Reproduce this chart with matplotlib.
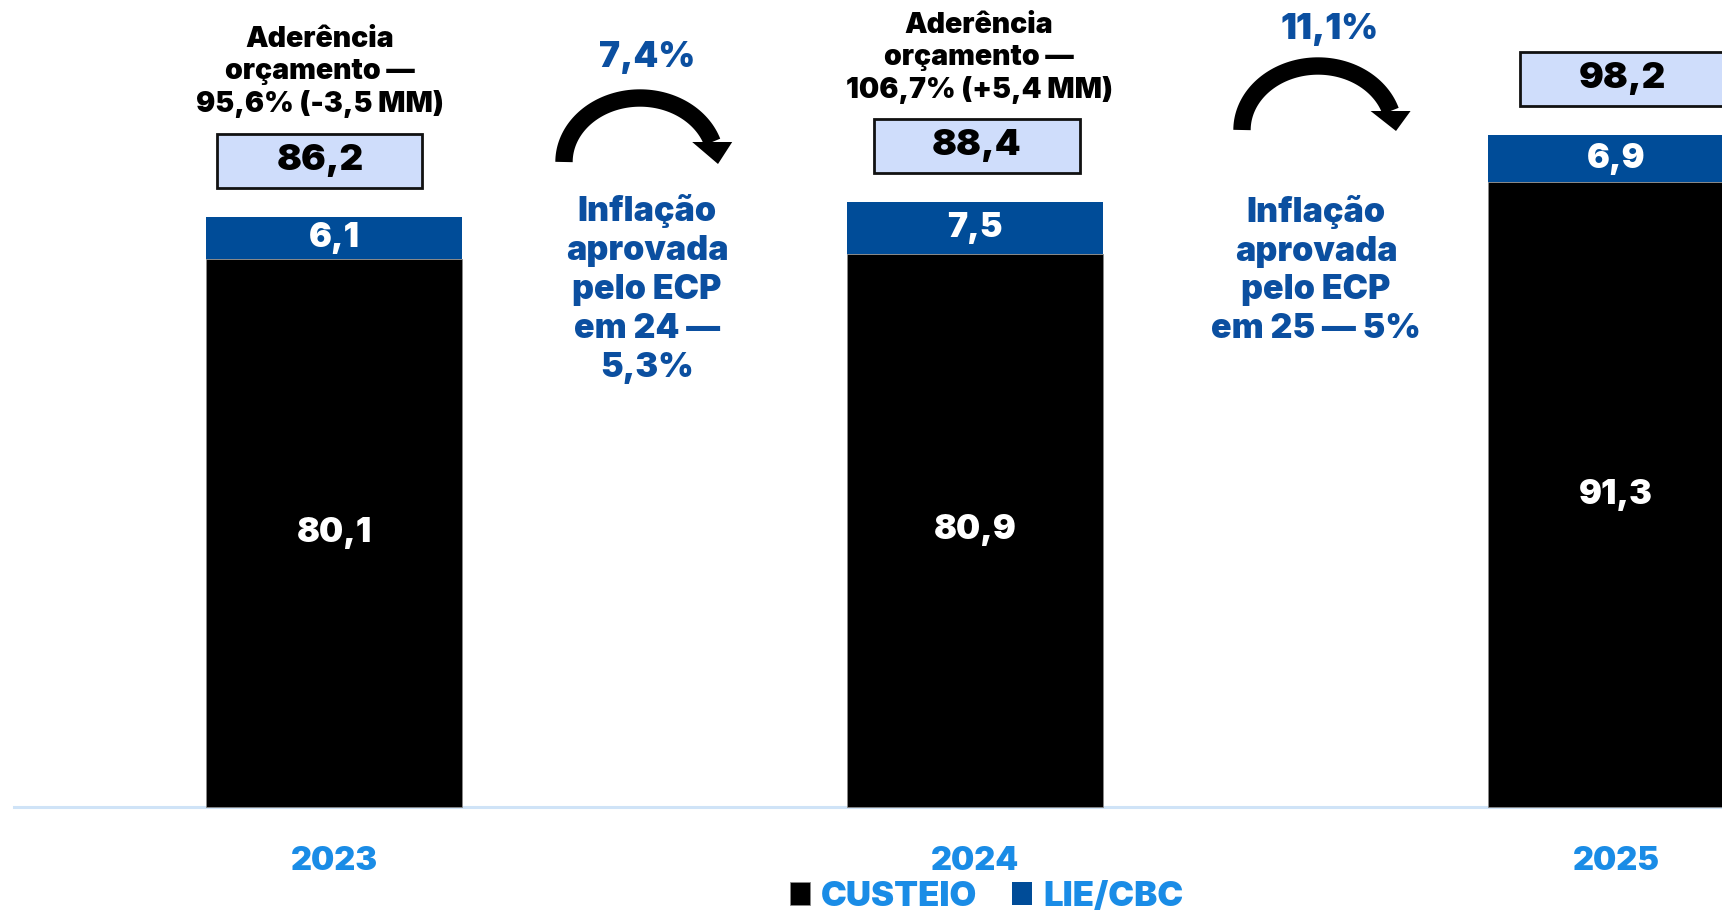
import matplotlib
matplotlib.use("Agg")
import matplotlib.pyplot as plt
from matplotlib.patches import Rectangle, Polygon
from matplotlib.lines import Line2D
import numpy as np

# data (R$ MM)
years = ["2023", "2024", "2025"]
custeio = [80.1, 80.9, 91.3]
lie_cbc = [6.1, 7.5, 6.9]
custeio_labels = ["80,1", "80,9", "91,3"]
lie_labels = ["6,1", "7,5", "6,9"]
total_labels = ["86,2", "88,4", "98,2"]
aderencia = ["Aderência\norçamento —\n95,6% (-3,5 MM)",
             "Aderência\norçamento —\n106,7% (+5,4 MM)"]
growth = ["7,4%", "11,1%"]
inflacao = ["Inflação\naprovada\npelo ECP\nem 24 —\n5,3%",
            "Inflação\naprovada\npelo ECP\nem 25 — 5%"]
legend_labels = ["CUSTEIO", "LIE/CBC"]

W, H = 1722, 916
BLACK = "#000000"
DARK_BLUE = "#004c98"
TXT_BLUE = "#0b4fa0"
YEAR_BLUE = "#1a8ce6"
BOX_FILL = "#cfddfb"
AXIS_LINE = "#cfe3f7"
FONT = "Inter"
WEIGHT = 900

plt.rcParams["font.family"] = [FONT, "DejaVu Sans"]

def fx(x):
    return x / W

def fy(y):
    return 1 - y / H

fig = plt.figure(figsize=(W / 100, H / 100), dpi=100)
ax = fig.add_axes([0, 0, 1, 1])
ax.set_xlim(-0.521, 2.165)
ax.set_ylim(-15.94, 117.98)
ax.axis("off")

x = np.arange(len(years))
width = 0.40
b1 = ax.bar(x, custeio, width, color=BLACK, edgecolor="#8a8a8a", linewidth=0.6, label=legend_labels[0])
b2 = ax.bar(x, lie_cbc, width, bottom=custeio, color=DARK_BLUE, label=legend_labels[1])
ax.axhline(0, xmin=14 / W, xmax=1, color=AXIS_LINE, linewidth=2.2, zorder=0)

totals = np.array(custeio) + np.array(lie_cbc)
box_dx = [-0.022, 0.003, 0.01]
for i in range(len(years)):
    ax.text(x[i], custeio[i] / 2, custeio_labels[i], color="white", fontsize=24.5,
            fontweight=WEIGHT, ha="center", va="center")
    ax.text(x[i], custeio[i] + lie_cbc[i] / 2, lie_labels[i], color="white", fontsize=24.5,
            fontweight=WEIGHT, ha="center", va="center")
    # total box
    bw, bh = 0.32, 7.9
    bx = x[i] + box_dx[i]
    by = totals[i] + 4.3
    ax.add_patch(Rectangle((bx - bw / 2, by), bw, bh, facecolor=BOX_FILL,
                           edgecolor="#111111", linewidth=2, clip_on=False))
    ax.text(bx, by + bh / 2, total_labels[i], color=BLACK, fontsize=26.5,
            fontweight=WEIGHT, ha="center", va="center")
    ax.text(x[i], -7.9, years[i], color=YEAR_BLUE, fontsize=23.5,
            fontweight=WEIGHT, ha="center", va="center")

# budget adherence notes
for txt, (px, py) in zip(aderencia, [(320, 72), (979, 58)]):
    fig.text(fx(px), fy(py), txt, color=BLACK, fontsize=20.5, fontweight=WEIGHT,
             ha="center", va="center", linespacing=1.25)

# growth % and curved arrows
for txt, (px, py) in zip(growth, [(647, 57), (1330, 30)]):
    fig.text(fx(px), fy(py), txt, color=TXT_BLUE, fontsize=25.5, fontweight=WEIGHT,
             ha="center", va="center")

def curved_arrow(cx, cy, rx, ry, head_y, tip_x, tip_y, head_w=40):
    th_end = np.arcsin((cy - head_y) / ry)
    th = np.linspace(np.pi, th_end, 80)
    xs = cx + rx * np.cos(th)
    ys = cy - ry * np.sin(th)
    fig.add_artist(Line2D(fx(xs), fy(ys), transform=fig.transFigure, color=BLACK,
                          linewidth=12.5, solid_capstyle="butt", solid_joinstyle="round"))
    hx = xs[-1]
    head = [(hx - head_w / 2, head_y), (hx + head_w / 2, head_y), (tip_x, tip_y)]
    fig.add_artist(Polygon([(fx(a), fy(b)) for a, b in head], closed=True,
                           transform=fig.transFigure, color=BLACK, linewidth=0))

curved_arrow(640, 162, 76, 64, 142, 718, 164)
curved_arrow(1318, 130, 76, 64, 111, 1396, 131)

for txt, (px, py) in zip(inflacao, [(647, 289), (1316, 270)]):
    fig.text(fx(px), fy(py), txt, color=TXT_BLUE, fontsize=24.5, fontweight=WEIGHT,
             ha="center", va="center", linespacing=1.27)

leg = fig.legend(handles=[b1, b2], labels=legend_labels, loc="center",
                 bbox_to_anchor=(fx(987), fy(897)), ncol=2, frameon=False,
                 prop={"family": FONT, "weight": WEIGHT, "size": 25},
                 labelcolor=YEAR_BLUE, handlelength=0.57, handleheight=0.63,
                 handletextpad=0.32, columnspacing=1.0, borderpad=0, borderaxespad=0)

fig.savefig("out.png", dpi=100)
